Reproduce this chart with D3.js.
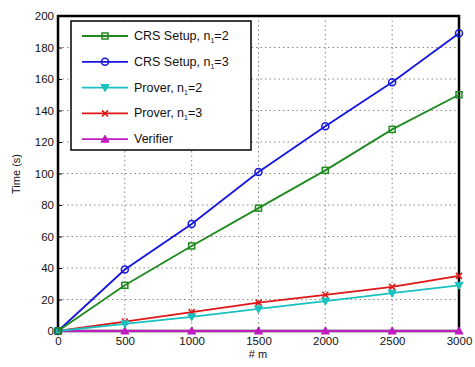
<!DOCTYPE html>
<html>
<head>
<meta charset="utf-8">
<script src="https://cdn.jsdelivr.net/npm/d3@7"></script>
<style>
  body { margin: 0; background: #fff; }
  text { font-family: "Liberation Sans", Arial, sans-serif; }
</style>
</head>
<body>
<div id="plot-container"></div>
<script>
const xValues = [0, 500, 1000, 1500, 2000, 2500, 3000];
const crsN2 = [0, 29, 54, 78, 102, 128, 150];
const crsN3 = [0, 39, 68, 101, 130, 158, 189];
const proverN2 = [0, 4.5, 9, 14, 19, 24, 29];
const proverN3 = [0, 6, 12, 18, 23, 28, 35];
const verifier = [0, 0, 0, 0, 0, 0, 0];
const xTicks = [0, 500, 1000, 1500, 2000, 2500, 3000];
const yTicks = [0, 20, 40, 60, 80, 100, 120, 140, 160, 180, 200];

const series = [
  { name: 'CRS Setup, n', sub: '1', tail: '=2', values: crsN2, color: '#1f8a1f', marker: 'square' },
  { name: 'CRS Setup, n', sub: '1', tail: '=3', values: crsN3, color: '#1515e0', marker: 'circle' },
  { name: 'Prover, n', sub: '1', tail: '=2', values: proverN2, color: '#19c0c0', marker: 'tridown' },
  { name: 'Prover, n', sub: '1', tail: '=3', values: proverN3, color: '#e01515', marker: 'x' },
  { name: 'Verifier', sub: '', tail: '', values: verifier, color: '#c01cc0', marker: 'triup' }
];

const width = 475, height = 367;
const padLeft = 58, padRight = 459, padTop = 16, padBottom = 331;

const svg = d3.select('#plot-container').append('svg')
  .attr('width', width).attr('height', height);

const xScale = d3.scaleLinear().domain([0, 3000]).range([padLeft, padRight]);
const yScale = d3.scaleLinear().domain([0, 200]).range([padBottom, padTop]);

// grid
svg.append('g').selectAll('line').data(xTicks.slice(1, -1)).enter().append('line')
  .attr('x1', d => xScale(d)).attr('x2', d => xScale(d))
  .attr('y1', padTop).attr('y2', padBottom)
  .attr('stroke', '#888').attr('stroke-width', 1).attr('stroke-dasharray', '1.5,3');
svg.append('g').selectAll('line').data(yTicks.slice(1, -1)).enter().append('line')
  .attr('y1', d => yScale(d)).attr('y2', d => yScale(d))
  .attr('x1', padLeft).attr('x2', padRight)
  .attr('stroke', '#888').attr('stroke-width', 1).attr('stroke-dasharray', '1.5,3');

// axes
const xAxis = d3.axisBottom(xScale).tickValues(xTicks).tickFormat(d3.format('d')).tickSize(-4).tickPadding(6);
const yAxis = d3.axisLeft(yScale).tickValues(yTicks).tickFormat(d3.format('d')).tickSize(-4).tickPadding(4);
const gx = svg.append('g').attr('transform', `translate(0,${padBottom})`).call(xAxis);
const gy = svg.append('g').attr('transform', `translate(${padLeft},0)`).call(yAxis);
[gx, gy].forEach(g => {
  g.select('.domain').remove();
  g.selectAll('text').attr('font-size', 11.5).attr('fill', '#111')
    .style('font-family', '"Liberation Sans", Arial, sans-serif');
  g.selectAll('line').attr('stroke', '#000');
});

// frame
svg.append('rect').attr('x', padLeft).attr('y', padTop)
  .attr('width', padRight - padLeft).attr('height', padBottom - padTop)
  .attr('fill', 'none').attr('stroke', '#000').attr('stroke-width', 2.5);

const line = d3.line().x((d, i) => xScale(xValues[i])).y(d => yScale(d));

function drawMarker(g, type, x, y, color) {
  const s = 3;
  if (type === 'square') {
    g.append('rect').attr('x', x - s).attr('y', y - s).attr('width', 2 * s).attr('height', 2 * s)
      .attr('fill', 'none').attr('stroke', color).attr('stroke-width', 1.5);
  } else if (type === 'circle') {
    g.append('circle').attr('cx', x).attr('cy', y).attr('r', s + 0.5)
      .attr('fill', 'none').attr('stroke', color).attr('stroke-width', 1.5);
  } else if (type === 'tridown') {
    g.append('path').attr('d', `M${x - 4},${y - 3}L${x + 4},${y - 3}L${x},${y + 4}Z`)
      .attr('fill', color).attr('stroke', color).attr('stroke-width', 1);
  } else if (type === 'triup') {
    g.append('path').attr('d', `M${x - 4},${y + 3}L${x + 4},${y + 3}L${x},${y - 4}Z`)
      .attr('fill', color).attr('stroke', color).attr('stroke-width', 1);
  } else if (type === 'x') {
    g.append('path').attr('d', `M${x - 3},${y - 3}L${x + 3},${y + 3}M${x - 3},${y + 3}L${x + 3},${y - 3}`)
      .attr('stroke', color).attr('stroke-width', 1.5);
  }
}

// lines, draw in reverse so CRS sits on top
series.slice().reverse().forEach(s => {
  const g = svg.append('g');
  g.append('path').attr('d', line(s.values))
    .attr('fill', 'none').attr('stroke', s.color).attr('stroke-width', 1.8);
  s.values.forEach((v, i) => drawMarker(g, s.marker, xScale(xValues[i]), yScale(v), s.color));
});

// legend
const lg = svg.append('g');
lg.append('rect').attr('x', 71).attr('y', 21).attr('width', 180).attr('height', 129)
  .attr('fill', '#fff').attr('stroke', '#000').attr('stroke-width', 1.5);
series.forEach((s, i) => {
  const y = 36 + i * 25.8;
  lg.append('line').attr('x1', 82).attr('x2', 128).attr('y1', y).attr('y2', y)
    .attr('stroke', s.color).attr('stroke-width', 1.8);
  drawMarker(lg, s.marker, 105, y, s.color);
  const t = lg.append('text').attr('x', 134).attr('y', y + 4).attr('font-size', 12.5).attr('fill', '#111');
  t.append('tspan').text(s.name);
  if (s.sub) {
    t.append('tspan').attr('font-size', 7).attr('dy', 3).text(s.sub);
    t.append('tspan').attr('dy', -3).text(s.tail);
  }
});

// axis labels
svg.append('text').attr('x', 258).attr('y', 358).attr('text-anchor', 'middle')
  .attr('font-size', 11).attr('fill', '#111').text('# m');
svg.append('text').attr('transform', 'translate(20,174) rotate(-90)').attr('text-anchor', 'middle')
  .attr('font-size', 11).attr('fill', '#111').text('Time (s)');
</script>
</body>
</html>
